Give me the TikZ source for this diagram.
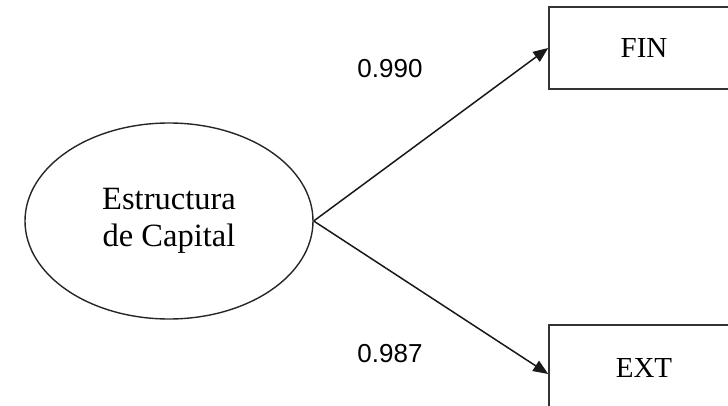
\documentclass[tikz,border=0pt]{standalone}
\usepackage{fontspec}
\setmainfont{Liberation Serif}
\newfontfamily\numfont{Liberation Sans}
\usetikzlibrary{shapes.geometric,arrows.meta,calc}

\tikzset{
  latent/.style={ellipse, draw=black!85, line width=1.4pt,
    minimum width=288pt, minimum height=196pt, inner sep=0pt,
    align=center, font=\fontsize{32.5}{37}\selectfont},
  indicator/.style={rectangle, draw=black!80, line width=1.6pt,
    minimum width=190pt, inner sep=0pt,
    font=\fontsize{29}{34}\selectfont},
  path/.style={line width=1.5pt, draw=black!90,
    -{Triangle[length=15pt,width=12pt]}},
  loading/.style={font=\numfont\fontsize{26}{30}\selectfont, inner sep=0pt}
}

\begin{document}
\begin{tikzpicture}[x=1pt,y=-1pt]
  \useasboundingbox (0,0) rectangle (728,406);
  \begin{scope}
    \clip (0,0) rectangle (728,406);
    % latent construct
    \node[latent] (ec) at (169,221) {Estructura\\de Capital};
    % observed indicators
    \node[indicator, minimum height=82pt] (fin) at (644,48) {FIN};
    \node[indicator, minimum height=86pt] (ext) at (644,368) {EXT};
    % loadings
    \draw[path] (ec.east) -- (fin.west);
    \draw[path] (ec.east) -- ($(ext.west)+(0pt,-6pt)$);
    \node[loading] (l1) at (390,69) {0.990};
    \node[loading] (l2) at (390,354) {0.987};
  \end{scope}
\end{tikzpicture}
\end{document}
